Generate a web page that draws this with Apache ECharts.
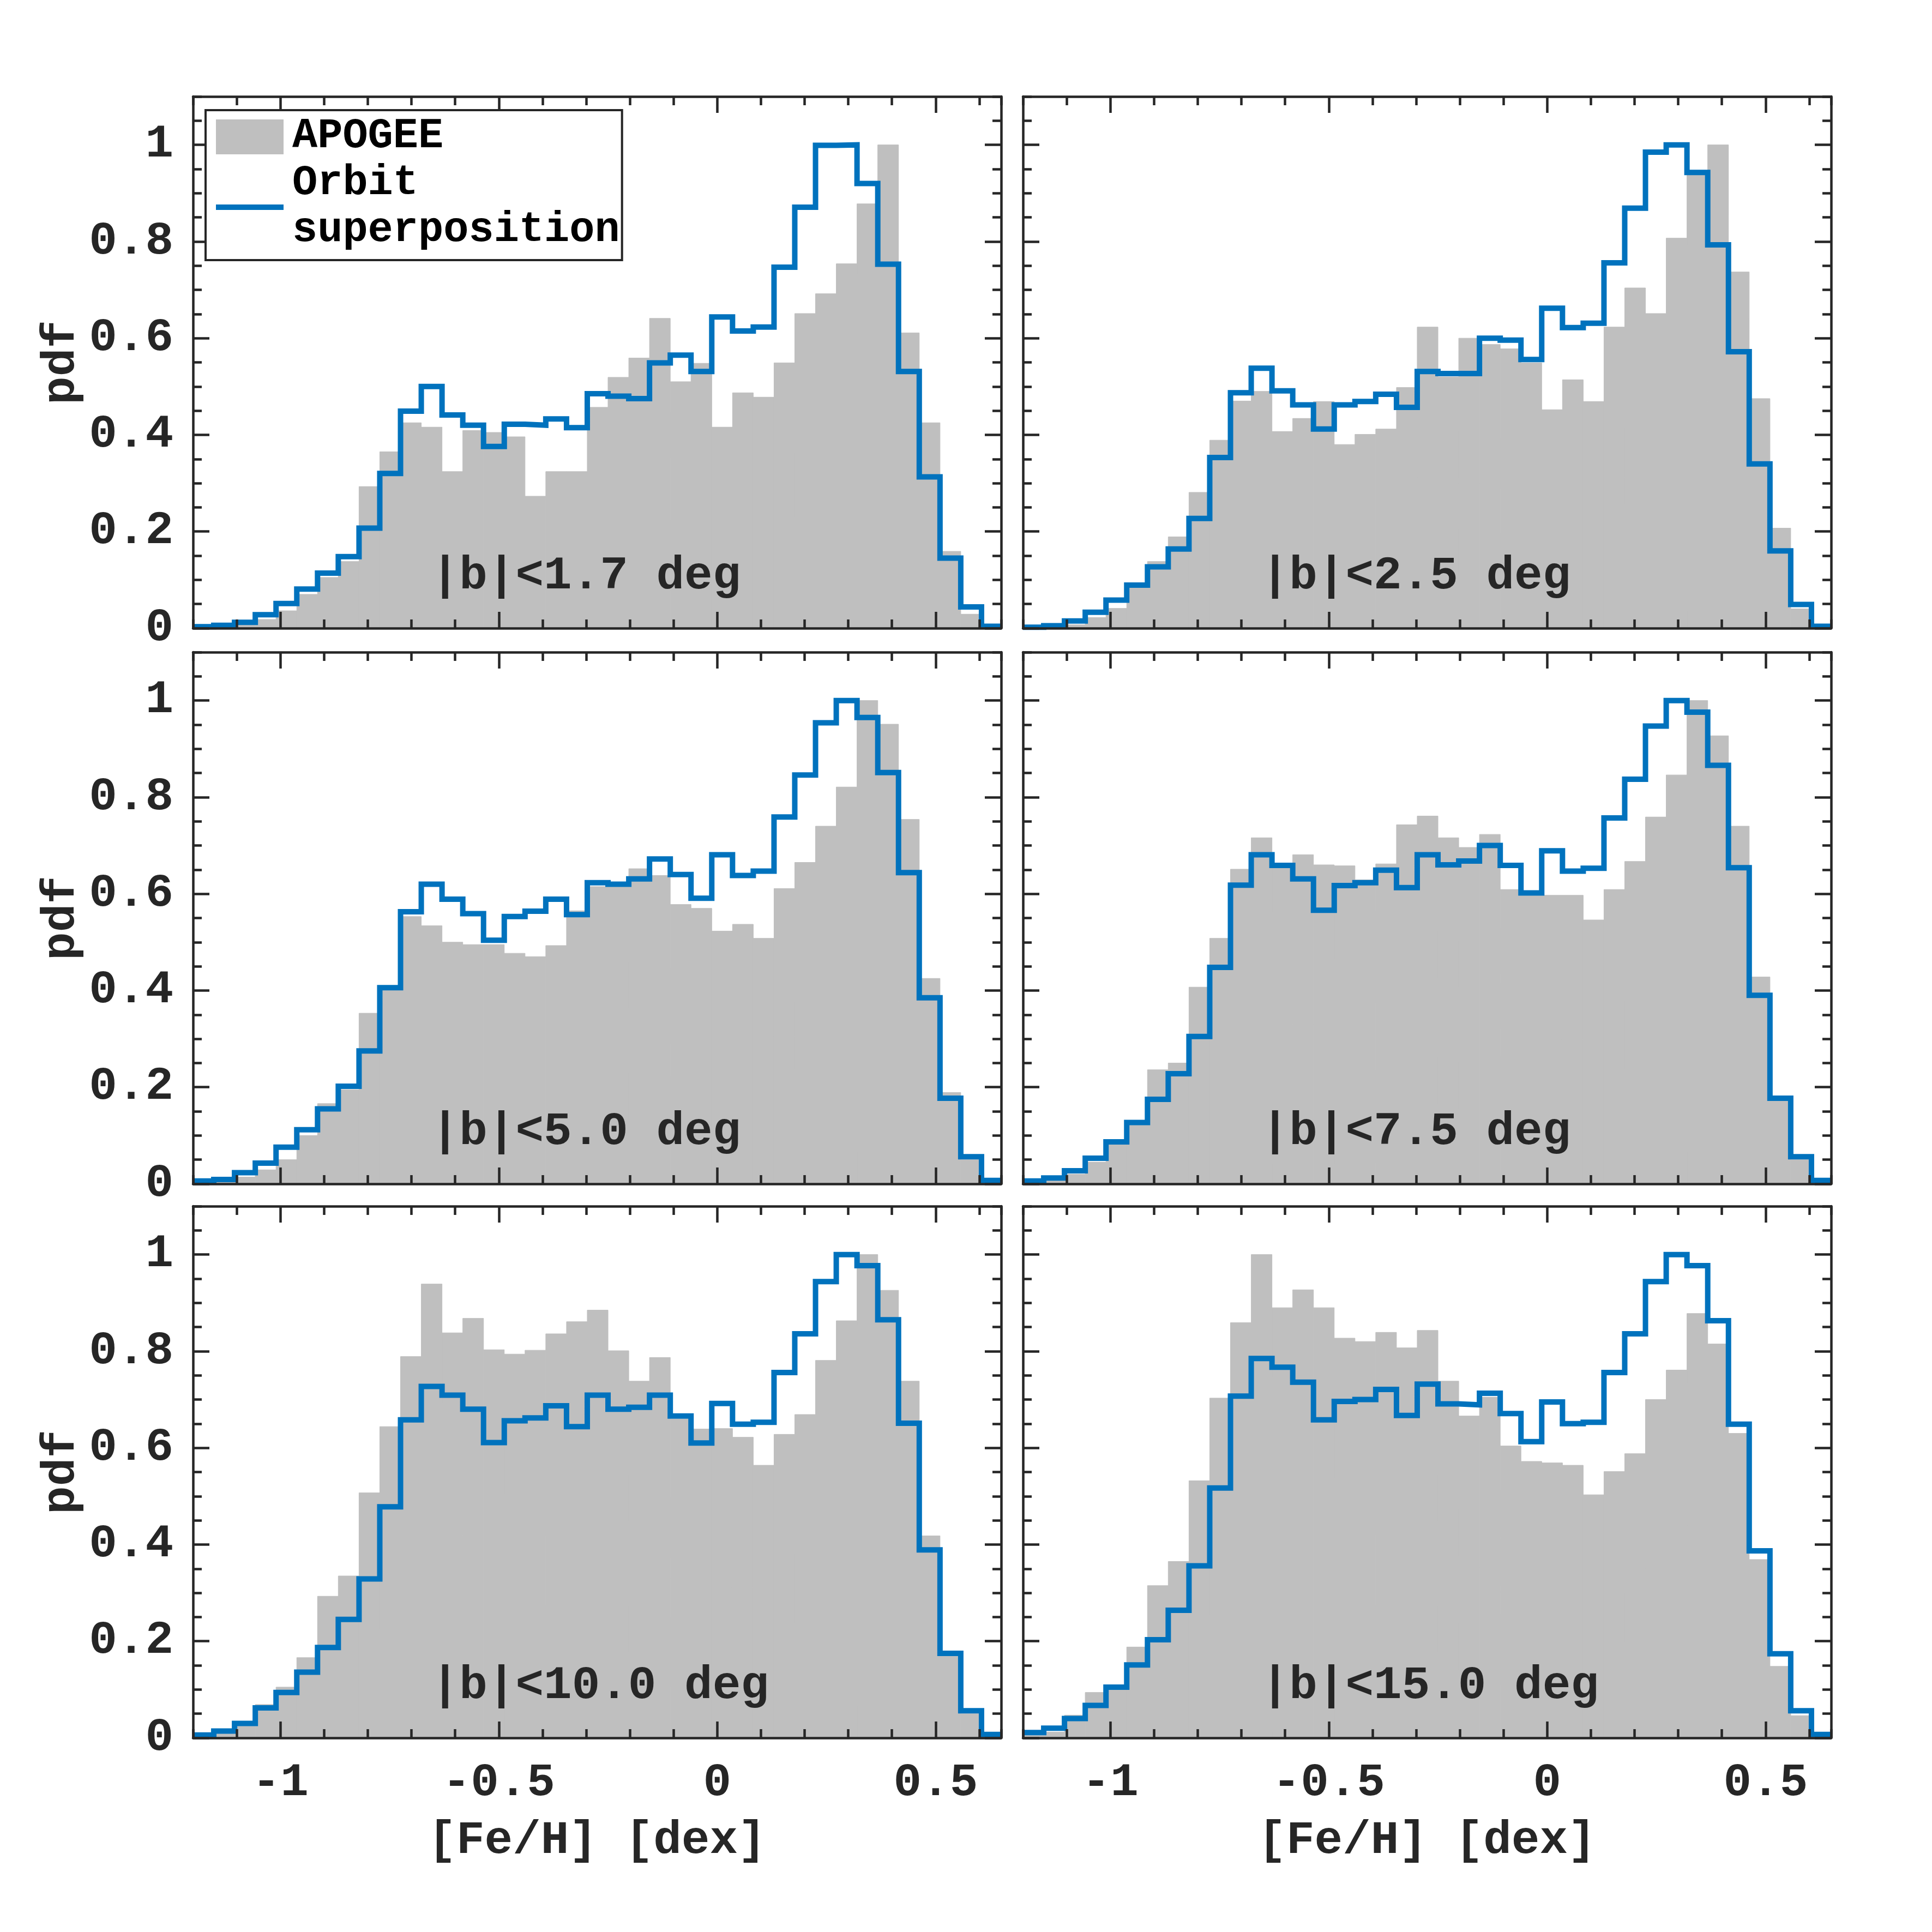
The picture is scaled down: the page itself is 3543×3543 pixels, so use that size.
<!DOCTYPE html>
<html>
<head>
<meta charset="utf-8">
<title>[Fe/H] pdf by latitude</title>
<script src="https://cdn.jsdelivr.net/npm/echarts@6/dist/echarts.min.js"></script>
<style>
  html, body { margin: 0; padding: 0; background: #fff; }
  #chart { width: 3543px; height: 3543px; }
</style>
</head>
<body>
<div id="chart"></div>
<script>
// histogram bins: left edge of the first bin and width, in dex
const binStart = -1.2
const binWidth = 0.0475

const xMajor = [-1, -0.5, 0, 0.5]
const yMajor = [0, 0.2, 0.4, 0.6, 0.8, 1]

const panelLabels = ['|b|<1.7 deg', '|b|<2.5 deg', '|b|<5.0 deg', '|b|<7.5 deg', '|b|<10.0 deg', '|b|<15.0 deg']

// APOGEE histograms (grey bars), one value per bin
const apogeeB17 = [0.002, 0.003, 0.007, 0.018, 0.036, 0.07, 0.105, 0.138, 0.293, 0.365, 0.425, 0.416, 0.324, 0.409, 0.405, 0.396, 0.273, 0.324, 0.324, 0.457, 0.519, 0.559, 0.641, 0.51, 0.548, 0.416, 0.487, 0.478, 0.549, 0.651, 0.692, 0.754, 0.878, 1.0, 0.611, 0.425, 0.159, 0.029, 0.004]
const apogeeB25 = [0.001, 0.002, 0.007, 0.022, 0.041, 0.084, 0.138, 0.189, 0.281, 0.389, 0.47, 0.49, 0.407, 0.434, 0.469, 0.38, 0.401, 0.412, 0.498, 0.623, 0.52, 0.6, 0.587, 0.578, 0.549, 0.452, 0.514, 0.469, 0.623, 0.704, 0.651, 0.807, 0.938, 1.0, 0.737, 0.475, 0.207, 0.04, 0.003]
const apogeeB50 = [0.003, 0.005, 0.014, 0.029, 0.05, 0.1, 0.166, 0.195, 0.353, 0.4, 0.553, 0.534, 0.5, 0.495, 0.495, 0.477, 0.47, 0.493, 0.565, 0.615, 0.62, 0.652, 0.638, 0.578, 0.57, 0.523, 0.537, 0.508, 0.611, 0.665, 0.74, 0.821, 1.0, 0.951, 0.754, 0.425, 0.189, 0.05, 0.005]
const apogeeB75 = [0.004, 0.008, 0.02, 0.045, 0.085, 0.125, 0.236, 0.25, 0.407, 0.508, 0.651, 0.716, 0.66, 0.681, 0.66, 0.658, 0.629, 0.662, 0.743, 0.761, 0.716, 0.696, 0.723, 0.609, 0.6, 0.597, 0.597, 0.546, 0.609, 0.667, 0.759, 0.846, 1.0, 0.927, 0.74, 0.428, 0.18, 0.05, 0.005]
const apogeeB100 = [0.004, 0.01, 0.034, 0.069, 0.105, 0.166, 0.293, 0.335, 0.507, 0.644, 0.789, 0.939, 0.838, 0.868, 0.803, 0.794, 0.802, 0.836, 0.861, 0.885, 0.801, 0.738, 0.787, 0.66, 0.639, 0.64, 0.622, 0.564, 0.628, 0.669, 0.781, 0.863, 1.0, 0.926, 0.738, 0.418, 0.18, 0.05, 0.005]
const apogeeB150 = [0.005, 0.012, 0.047, 0.094, 0.1, 0.188, 0.315, 0.365, 0.532, 0.703, 0.859, 1.0, 0.89, 0.927, 0.89, 0.827, 0.82, 0.839, 0.807, 0.843, 0.738, 0.666, 0.705, 0.604, 0.572, 0.569, 0.564, 0.503, 0.551, 0.588, 0.7, 0.761, 0.878, 0.815, 0.63, 0.369, 0.148, 0.046, 0.003]

// orbit superposition histograms (blue steps)
const orbitB17 = [0.003, 0.006, 0.012, 0.028, 0.051, 0.081, 0.114, 0.148, 0.207, 0.32, 0.449, 0.5, 0.441, 0.42, 0.376, 0.422, 0.42, 0.433, 0.415, 0.485, 0.48, 0.475, 0.549, 0.565, 0.531, 0.644, 0.615, 0.623, 0.747, 0.871, 0.999, 1.0, 0.92, 0.753, 0.531, 0.313, 0.145, 0.044, 0.004]
const orbitB25 = [0.002, 0.005, 0.015, 0.033, 0.058, 0.089, 0.127, 0.164, 0.227, 0.353, 0.487, 0.538, 0.491, 0.462, 0.412, 0.462, 0.469, 0.484, 0.457, 0.531, 0.527, 0.527, 0.6, 0.596, 0.556, 0.662, 0.622, 0.631, 0.756, 0.869, 0.985, 1.0, 0.943, 0.793, 0.572, 0.34, 0.16, 0.049, 0.004]
const orbitB50 = [0.006, 0.009, 0.023, 0.043, 0.076, 0.112, 0.155, 0.202, 0.275, 0.406, 0.563, 0.62, 0.589, 0.559, 0.504, 0.553, 0.564, 0.589, 0.557, 0.623, 0.62, 0.631, 0.672, 0.64, 0.591, 0.681, 0.638, 0.647, 0.759, 0.846, 0.954, 1.0, 0.965, 0.851, 0.644, 0.385, 0.177, 0.056, 0.007]
const orbitB75 = [0.006, 0.012, 0.027, 0.053, 0.087, 0.127, 0.175, 0.228, 0.305, 0.448, 0.618, 0.681, 0.659, 0.631, 0.566, 0.617, 0.623, 0.649, 0.613, 0.681, 0.66, 0.668, 0.7, 0.659, 0.602, 0.689, 0.647, 0.653, 0.757, 0.837, 0.947, 1.0, 0.976, 0.866, 0.654, 0.39, 0.177, 0.056, 0.007]
const orbitB100 = [0.006, 0.014, 0.03, 0.062, 0.094, 0.136, 0.187, 0.245, 0.329, 0.478, 0.658, 0.727, 0.709, 0.68, 0.611, 0.656, 0.662, 0.687, 0.644, 0.709, 0.68, 0.684, 0.709, 0.666, 0.61, 0.692, 0.649, 0.653, 0.756, 0.836, 0.944, 1.0, 0.977, 0.865, 0.651, 0.389, 0.175, 0.056, 0.007]
const orbitB150 = [0.011, 0.02, 0.04, 0.067, 0.105, 0.151, 0.203, 0.264, 0.356, 0.517, 0.707, 0.785, 0.767, 0.736, 0.658, 0.696, 0.7, 0.721, 0.667, 0.732, 0.691, 0.689, 0.713, 0.671, 0.613, 0.695, 0.65, 0.653, 0.756, 0.836, 0.944, 1.0, 0.977, 0.863, 0.649, 0.387, 0.174, 0.056, 0.007]

const apogeeSets = [apogeeB17, apogeeB25, apogeeB50, apogeeB75, apogeeB100, apogeeB150]
const orbitSets = [orbitB17, orbitB25, orbitB50, orbitB75, orbitB100, orbitB150]

// layout (px)
const FONT = '"Liberation Mono", "DejaVu Sans Mono", monospace'
const INK = '#262626'
const GREY = '#BFBFBF'
const BLUE = '#0072BD'
const LINE_W = 10
const gridW = 1482
const gridH = 975
const colLeft = [354, 1876]
const rowTop = [177, 1196, 2212]
const labelAt = [-0.655, 0.107]

const tickFont = { fontFamily: FONT, fontWeight: 'bold', fontSize: 86, color: INK }
const frame = { show: true, onZero: false, lineStyle: { color: INK, width: 4.5 } }
const tickLine = { color: INK, width: 4.5 }

const grids = []
const xAxes = []
const yAxes = []
const series = []

for (let p = 0; p < 6; p++) {
  const row = Math.floor(p / 2)
  const col = p % 2
  const bottomRow = row === 2
  const leftCol = col === 0
  grids.push({ left: colLeft[col], top: rowTop[row], width: gridW, height: gridH })

  const xBase = { gridIndex: p, type: 'value', min: -1.2, max: 0.65, splitLine: { show: false }, z: 5 }
  // bottom major (labels on the last row)
  xAxes.push(Object.assign({}, xBase, {
    position: 'bottom',
    axisLine: frame,
    axisTick: { inside: true, length: 30, customValues: xMajor, lineStyle: tickLine },
    axisLabel: Object.assign({ show: bottomRow, customValues: xMajor, margin: 40, formatter: v => String(v) }, tickFont),
    name: bottomRow ? '[Fe/H] [dex]' : '',
    nameLocation: 'middle',
    nameGap: 146,
    nameTextStyle: tickFont
  }))
  // bottom minor
  xAxes.push(Object.assign({}, xBase, {
    position: 'bottom', interval: 0.1,
    axisLine: { show: false, onZero: false },
    axisTick: { inside: true, length: 16, lineStyle: tickLine },
    axisLabel: { show: false }
  }))
  // top mirror
  xAxes.push(Object.assign({}, xBase, {
    position: 'top',
    axisLine: frame,
    axisTick: { inside: true, length: 30, customValues: xMajor, lineStyle: tickLine },
    axisLabel: { show: false }
  }))
  xAxes.push(Object.assign({}, xBase, {
    position: 'top', interval: 0.1,
    axisLine: { show: false, onZero: false },
    axisTick: { inside: true, length: 16, lineStyle: tickLine },
    axisLabel: { show: false }
  }))

  const yBase = { gridIndex: p, type: 'value', min: 0, max: 1.1, splitLine: { show: false }, z: 5 }
  yAxes.push(Object.assign({}, yBase, {
    position: 'left',
    axisLine: frame,
    axisTick: { inside: true, length: 30, customValues: yMajor, lineStyle: tickLine },
    axisLabel: Object.assign({ show: leftCol, customValues: yMajor, margin: 36, formatter: v => String(v) }, tickFont),
    name: leftCol ? 'pdf' : '',
    nameLocation: 'middle',
    nameGap: 198,
    nameTextStyle: tickFont
  }))
  yAxes.push(Object.assign({}, yBase, {
    position: 'left', interval: 0.05,
    axisLine: { show: false, onZero: false },
    axisTick: { inside: true, length: 16, lineStyle: tickLine },
    axisLabel: { show: false }
  }))
  yAxes.push(Object.assign({}, yBase, {
    position: 'right',
    axisLine: frame,
    axisTick: { inside: true, length: 30, customValues: yMajor, lineStyle: tickLine },
    axisLabel: { show: false }
  }))
  yAxes.push(Object.assign({}, yBase, {
    position: 'right', interval: 0.05,
    axisLine: { show: false, onZero: false },
    axisTick: { inside: true, length: 16, lineStyle: tickLine },
    axisLabel: { show: false }
  }))

  const ax = p * 4
  const apogee = apogeeSets[p]
  const orbit = orbitSets[p]

  series.push({
    type: 'custom',
    name: 'APOGEE',
    xAxisIndex: ax,
    yAxisIndex: ax,
    clip: true,
    silent: true,
    itemStyle: { color: GREY },
    encode: { x: [0, 1], y: 2 },
    data: apogee.map((v, k) => [binStart + k * binWidth, binStart + (k + 1) * binWidth, v]),
    renderItem: function (params, api) {
      const top = api.coord([api.value(0), api.value(2)])
      const base = api.coord([api.value(1), 0])
      return {
        type: 'rect',
        shape: { x: top[0], y: top[1], width: base[0] - top[0], height: base[1] - top[1] },
        style: { fill: GREY, stroke: GREY, lineWidth: 1 }
      }
    }
  })

  series.push({
    type: 'line',
    name: 'Orbit\nsuperposition',
    xAxisIndex: ax,
    yAxisIndex: ax,
    step: 'end',
    symbol: 'none',
    clip: true,
    silent: true,
    z: 3,
    lineStyle: { color: BLUE, width: LINE_W, join: 'miter' },
    itemStyle: { color: BLUE },
    data: orbit.map((v, k) => [binStart + k * binWidth, v])
      .concat([[binStart + orbit.length * binWidth, orbit[orbit.length - 1]]])
  })

  series.push({
    type: 'scatter',
    name: 'label' + p,
    xAxisIndex: ax,
    yAxisIndex: ax,
    symbolSize: 0,
    silent: true,
    z: 4,
    data: [labelAt],
    label: Object.assign({
      show: true, position: 'right', distance: 0,
      formatter: panelLabels[p]
    }, tickFont, { color: '#000' })
  })
}

const chart = echarts.init(document.getElementById('chart'), null, { renderer: 'canvas' })
chart.setOption({
  animation: false,
  backgroundColor: '#fff',
  grid: grids,
  xAxis: xAxes,
  yAxis: yAxes,
  legend: {
    show: true,
    z: 10,
    left: 377,
    top: 202,
    orient: 'vertical',
    backgroundColor: '#fff',
    borderColor: INK,
    borderWidth: 4,
    padding: [6, 4, 11, 14],
    itemWidth: 124,
    itemHeight: 64,
    itemGap: 0,
    selectedMode: false,
    textStyle: { fontFamily: FONT, fontWeight: 'bold', fontSize: 77, lineHeight: 86, color: '#000', padding: [0, 0, 0, 11] },
    data: [
      { name: 'APOGEE', icon: 'rect' },
      {
        name: 'Orbit\nsuperposition',
        itemStyle: { opacity: 0 },
        lineStyle: { width: LINE_W, color: BLUE, cap: 'butt' }
      }
    ]
  },
  series: series
})
</script>
</body>
</html>
